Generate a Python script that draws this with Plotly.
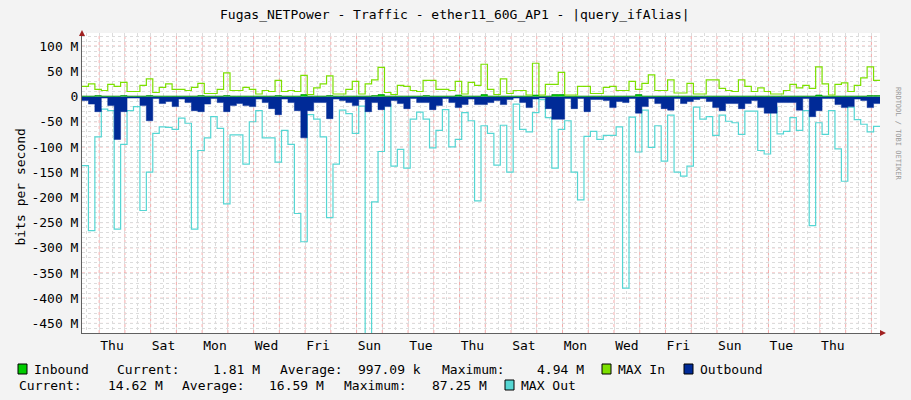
import plotly.graph_objects as go

step_hours = 6
max_in = [20,25,14,12,24,20,28,10,10,22,35,8,18,25,14,14,12,18,26,6,6,14,47,12,12,18,14,5,12,10,32,10,12,10,42,4,17,25,41,5,5,14,
          30,5,25,33,58,8,4,22,20,12,10,32,32,14,14,12,30,5,28,22,64,14,4,35,6,12,12,3,66,3,24,24,48,3,3,20,20,6,6,18,
          20,12,12,30,14,26,43,12,12,33,7,7,26,5,5,33,33,16,12,10,33,20,10,17,10,5,5,12,24,17,22,16,59,25,3,24,27,10,22,37,59,32]
outbound = [-8,-15,-30,-3,-18,-85,-30,-3,-3,-18,-48,-4,-14,-10,-20,-5,-12,-28,-30,-15,-4,-12,-30,-18,-14,-18,-20,-5,-12,-24,-36,-5,-12,-28,-82,-28,-12,-12,-44,-5,-8,-12,
            -18,-6,-30,-12,-26,-20,-8,-14,-24,-4,-12,-12,-26,-18,-4,-12,-22,-16,-5,-16,-16,-12,-8,-16,-6,-3,-12,-22,-5,-3,-24,-45,-45,-4,-24,-4,-30,-6,-6,-8,
            -22,-10,-12,-4,-33,-20,-4,-14,-24,-27,-4,-14,-10,-6,-4,-10,-22,-28,-14,-14,-24,-14,-8,-22,-33,-33,-12,-12,-12,-27,-4,-40,-28,-4,-4,-16,-22,-20,-5,-8,-22,-14]
max_out = [-137,-266,-80,-25,-28,-263,-95,-28,-20,-226,-150,-73,-60,-61,-65,-43,-53,-263,-107,-82,-40,-63,-213,-76,-76,-134,-50,-28,-82,-82,-130,-67,-95,-232,-288,-36,-45,-80,-240,-134,-27,-34,
           -73,-19,-480,-209,-109,-15,-138,-105,-142,-45,-31,-45,-102,-67,-26,-100,-85,-32,-48,-207,-58,-73,-136,-57,-150,-15,-65,-70,-32,-6,-42,-142,-65,-48,-150,-205,-79,-69,-85,-77,
           -77,-60,-380,-41,-110,-27,-101,-58,-128,-37,-150,-158,-138,-21,-45,-40,-77,-37,-49,-52,-75,-29,-29,-107,-114,-21,-74,-69,-42,-67,-28,-256,-52,-75,-28,-104,-168,-21,-46,-55,-70,-59]
inbound = [1,1,2,1,1,1,2,1,1,1,2,1,1,1,1,1,1,1,2,1,1,1,2,1,1,1,1,1,1,1,2,1,1,1,4,1,1,1,2,1,1,1,
           1,1,1,2,4,1,1,1,1,1,1,2,1,1,1,1,3,1,1,1,4,1,1,1,1,1,1,1,3,1,1,4,4,1,1,1,1,1,1,1,
           1,1,1,1,4,1,1,1,1,1,1,1,1,1,1,1,1,1,1,1,1,1,1,1,1,1,1,1,1,1,1,1,3,1,1,1,1,1,1,1,2,2]
day_labels = ["Thu","Sat","Mon","Wed","Fri","Sun","Tue","Thu","Sat","Mon","Wed","Fri","Sun","Tue","Thu"]

n = len(max_in)
x = [i*step_hours for i in range(n)] + [n*step_hours]
def ext(v): return list(v) + [v[-1]]
XMAX = n*step_hours
first_midnight, first_label = 16, 28
FF = "DejaVu Sans Mono"
FS = 13

fig = go.Figure()
fig.add_trace(go.Scatter(x=x, y=ext(max_out), mode="lines", line=dict(color="#55D6D3", width=1.2, shape="hv")))
fig.add_trace(go.Scatter(x=x, y=ext(outbound), mode="lines", fill="tozeroy", fillcolor="#002A97", line=dict(color="#002A97", width=0.5, shape="hv")))
fig.add_trace(go.Scatter(x=x, y=ext(inbound), mode="lines", fill="tozeroy", fillcolor="#00CC00", line=dict(color="#008800", width=0.6, shape="hv")))
fig.add_trace(go.Scatter(x=x, y=ext(max_in), mode="lines", line=dict(color="#7CE000", width=1.2, shape="hv")))

shapes = []
h = first_midnight
while h < XMAX:
    shapes.append(dict(type="line", xref="x", yref="paper", x0=h, x1=h, y0=0, y1=1, layer="below",
                       line=dict(color="rgba(240,150,150,0.8)", width=1, dash="dot")))
    h += 24
for v in range(-450, 126, 50):
    shapes.append(dict(type="line", xref="paper", yref="y", x0=0, x1=1, y0=v, y1=v, layer="below",
                       line=dict(color="rgba(240,150,150,0.8)", width=1, dash="dot")))

def px(xp): return (xp-82)/798
def py(yp): return (333-yp)/300
shapes.append(dict(type="path", xref="paper", yref="paper", path=f"M {px(880)} {py(330)} L {px(886)} {py(333)} L {px(880)} {py(336)} Z", fillcolor="#A02020", line=dict(width=0)))
shapes.append(dict(type="path", xref="paper", yref="paper", path=f"M {px(79)} {py(36)} L {px(82)} {py(30)} L {px(85)} {py(36)} Z", fillcolor="#A02020", line=dict(width=0)))

ann = []
def legend_box(xp, yp, color):
    shapes.append(dict(type="rect", xref="paper", yref="paper", x0=px(xp), x1=px(xp+9), y0=py(yp+5), y1=py(yp-5),
                       fillcolor=color, line=dict(color="#000", width=1)))
def text(xp, yp, s, anchor="left", size=FS, color="#000"):
    ann.append(dict(xref="paper", yref="paper", x=px(xp), y=py(yp), text=s, showarrow=False, xanchor=anchor,
                    yanchor="middle", font=dict(family=FF, size=size, color=color)))
L1, L2 = 369, 385
legend_box(18, L1, "#00CC00"); text(32, L1, "Inbound")
text(115, L1, "Current:"); text(262, L1, "1.81 M", "right")
text(278, L1, "Average:"); text(423, L1, "997.09 k", "right")
text(440, L1, "Maximum:"); text(586, L1, "4.94 M", "right")
legend_box(602, L1, "#7CE000"); text(616, L1, "MAX In")
legend_box(684, L1, "#002A97"); text(698, L1, "Outbound")
text(17, L2, "Current:"); text(165, L2, "14.62 M", "right")
text(180, L2, "Average:"); text(326, L2, "16.59 M", "right")
text(342, L2, "Maximum:"); text(489, L2, "87.25 M", "right")
legend_box(505, L2, "#55D6D3"); text(519, L2, "MAX Out")
text(455, 15, "Fugas_NETPower - Traffic - ether11_60G_AP1 - |query_ifAlias|", "center", FS)
ann.append(dict(xref="paper", yref="paper", x=px(10), y=py(187), text="bits per second", textangle=-90,
                showarrow=False, font=dict(family=FF, size=FS, color="#000")))
ann.append(dict(xref="paper", yref="paper", x=px(904), y=py(85), text="RRDTOOL / TOBI OETIKER", textangle=90,
                showarrow=False, font=dict(family=FF, size=7, color="#999")))

xt = list(range(4, XMAX, 12))
xtt = []
for t in xt:
    if t >= first_label and (t - first_label) % 48 == 0:
        xtt.append(day_labels[(t - first_label)//48])
    else:
        xtt.append("")
yt = list(range(-460, 126, 10))
ytt = [(f"{v} M" if v != 0 else "0") if v % 50 == 0 else "" for v in yt]

fig.update_layout(
    width=911, height=400, margin=dict(l=82, r=31, t=33, b=67, autoexpand=False),
    paper_bgcolor="#F3F3F3", plot_bgcolor="#FFFFFF", showlegend=False,
    shapes=shapes, annotations=ann,
    xaxis=dict(range=[0, XMAX], tickvals=xt, ticktext=xtt, showgrid=True, gridcolor="#DCDCDC", griddash="dot",
               zeroline=False, showline=True, linecolor="#606060", tickfont=dict(family=FF, size=FS, color="#000"),
               ticks="", automargin=False, fixedrange=True),
    yaxis=dict(range=[-469, 126], tickvals=yt, ticktext=ytt, showgrid=True, gridcolor="#DCDCDC", griddash="dot",
               zeroline=False, showline=True, linecolor="#606060", tickfont=dict(family=FF, size=FS, color="#000"),
               ticks="", automargin=False, fixedrange=True),
)
fig.write_html("out.html", config={"displayModeBar": False},
               post_script="document.body.style.margin='0';document.body.style.overflow='hidden';")
